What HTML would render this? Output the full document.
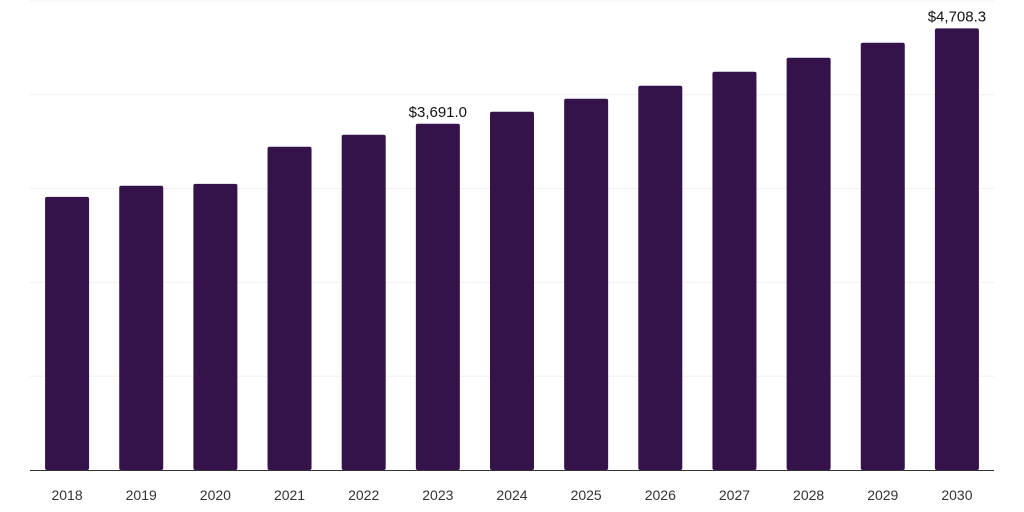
<!DOCTYPE html>
<html><head><meta charset="utf-8"><style>
html,body{margin:0;padding:0;background:#fff;width:1024px;height:512px;overflow:hidden}
svg text{font-family:"Liberation Sans",sans-serif}
</style></head><body>
<svg id="chart" width="1024" height="512"></svg>
<script>
const categories=["2018","2019","2020","2021","2022","2023","2024","2025","2026","2027","2028","2029","2030"];
const values=[2912,3030,3051,3446,3574,3691.0,3819,3958,4096,4246,4395,4555,4708.3];
const labels=["","","","","","$3,691.0","","","","","","","$4,708.3"];
const gridTicks=[1000,2000,3000,4000,5000];
const NS="http://www.w3.org/2000/svg";
const svg=document.getElementById('chart');
const x0=30,x1=994,y0=470,yMax=5000,yTopPx=1;
const band=(x1-x0)/categories.length;
const xC=i=>x0+band*(i+0.5);
const y=v=>y0-(v/yMax)*(y0-yTopPx);
function mk(t,a){const e=document.createElementNS(NS,t);for(const k in a)e.setAttribute(k,a[k]);svg.appendChild(e);return e;}
gridTicks.forEach(t=>{
 const g=mk('line',{x1:x0,x2:x1,y1:y(t),y2:y(t),stroke:'#f0f0f0','stroke-width':1});
 
 
});
categories.forEach((c,i)=>{
 const w=44;
 const r=mk('rect',{x:xC(i)-w/2,y:y(values[i]),width:w,height:y0-y(values[i]),fill:'#36124a',rx:2});
 
 
 const t=mk('text',{x:xC(i),y:500,'text-anchor':'middle','font-size':14,fill:'#333'});
 t.textContent=c;
 
 
 if(labels[i]){
  const l=mk('text',{x:xC(i),y:y(values[i])-7,'text-anchor':'middle','font-size':15,fill:'#111'});
  l.textContent=labels[i];
  
  
 }
});
const ax=mk('line',{x1:x0,x2:x1,y1:y0+0.5,y2:y0+0.5,stroke:'#333','stroke-width':1});


</script>
</body></html>
